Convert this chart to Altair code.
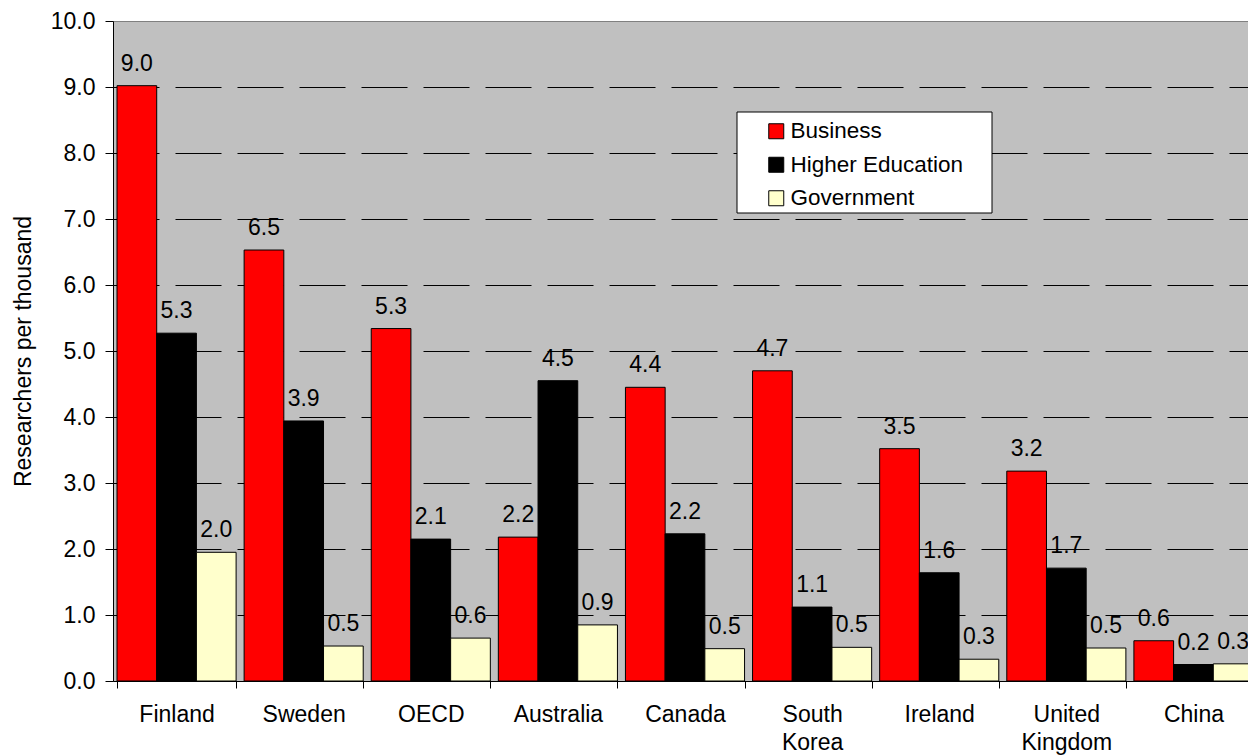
import altair as alt
import pandas as pd

countries = ["Finland", "Sweden", "OECD", "Australia", "Canada", "South Korea",
             "Ireland", "United Kingdom", "China"]
series = ["Business", "Higher Education", "Government"]
business = [9.02, 6.53, 5.34, 2.18, 4.45, 4.70, 3.52, 3.18, 0.61]
higher_ed = [5.27, 3.94, 2.15, 4.55, 2.23, 1.12, 1.64, 1.71, 0.25]
government = [1.95, 0.53, 0.65, 0.85, 0.49, 0.51, 0.33, 0.50, 0.26]
business_lbl = ["9.0", "6.5", "5.3", "2.2", "4.4", "4.7", "3.5", "3.2", "0.6"]
higher_ed_lbl = ["5.3", "3.9", "2.1", "4.5", "2.2", "1.1", "1.6", "1.7", "0.2"]
government_lbl = ["2.0", "0.5", "0.6", "0.9", "0.5", "0.5", "0.3", "0.5", "0.3"]
colors = ["#FF0000", "#000000", "#FFFFCC"]

rows = []
for vals, lbls, s in [(business, business_lbl, series[0]),
                      (higher_ed, higher_ed_lbl, series[1]),
                      (government, government_lbl, series[2])]:
    for c, v, l in zip(countries, vals, lbls):
        rows.append({"country": c, "series": s, "value": v, "label": l})
df = pd.DataFrame(rows)

FONT = "Liberation Sans"
W, H = 1135, 660

x = alt.X("country:N", sort=countries, title=None,
          scale=alt.Scale(paddingInner=0.063, paddingOuter=0.0315, range=[0, 1144]),
          axis=alt.Axis(tickBand="extent", labelAngle=0, labelFontSize=23, labelFont=FONT,
                        labelColor="black", tickColor="black", domainColor="black",
                        tickSize=7, labelPadding=15, labelLineHeight=28,
                        labelExpr="split(datum.label, ' ')", grid=False, labelLimit=200))
xo = alt.XOffset("series:N", sort=series, scale=alt.Scale(paddingInner=0, paddingOuter=0))
y = alt.Y("value:Q", title="Researchers per thousand",
          scale=alt.Scale(domain=[0, 10], nice=False),
          axis=alt.Axis(values=list(range(11)), format=".1f", labelFontSize=23, labelFont=FONT,
                        labelColor="black", tickColor="black", domainColor="black",
                        tickSize=8, labelPadding=10, titleFontSize=23, titleFont=FONT,
                        titleFontWeight="normal", titleColor="black", titlePadding=15,
                        grid=True, gridColor="black", gridDash=[46, 16], gridWidth=1,
                        gridOpacity={"condition": {"test": "datum.value >= 10 || datum.value <= 0", "value": 0}, "value": 1}))

bars = alt.Chart(df).mark_bar(stroke="black", strokeWidth=1).encode(
    x=x, xOffset=xo, y=y,
    color=alt.Color("series:N", sort=series,
                    scale=alt.Scale(domain=series, range=colors),
                    legend=alt.Legend(title=None, orient="none", legendX=652, legendY=99,
                                      symbolType="square", symbolSize=225,
                                      symbolStrokeColor="black", symbolStrokeWidth=1,
                                      labelFontSize=22.5, labelFont=FONT, labelColor="black",
                                      labelOffset=3, rowPadding=10.5, padding=0,
                                      labelLimit=300)),
)

text = alt.Chart(df).mark_text(baseline="alphabetic", dy=-15, fontSize=23, font=FONT,
                               color="black").encode(
    x=alt.X("country:N", sort=countries), xOffset=alt.XOffset("series:N", sort=series),
    y="value:Q", text="label:N")

box = alt.Chart(pd.DataFrame({"k": [0]})).mark_rect(fill="white", stroke="black",
                                                     strokeWidth=1).encode(
    x=alt.value(624), x2=alt.value(879), y=alt.value(91), y2=alt.value(192))

chart = alt.layer(bars, text, box).properties(
    width=W, height=H,
    autosize=alt.AutoSizeParams(type="none"),
    padding={"left": 113, "top": 21, "right": 0, "bottom": 75},
    background="white",
).configure_view(fill="#C0C0C0", stroke="#808080", strokeWidth=1)

chart.save("out.html", embed_options={"renderer": "svg", "actions": False})
